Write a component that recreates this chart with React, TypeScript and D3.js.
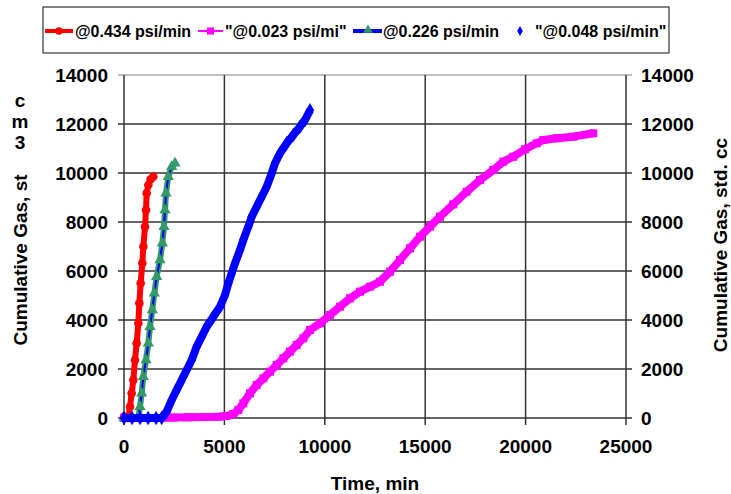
import React from "react";
import * as d3 from "d3";

const W = 731;
const H = 494;

const xTicks = [0, 5000, 10000, 15000, 20000, 25000];
const yTicks = [0, 2000, 4000, 6000, 8000, 10000, 12000, 14000];

const legendLabels = ["@0.434 psi/min", "\"@0.023 psi/mi\"", "@0.226 psi/min", "\"@0.048 psi/min\""];

// @0.434 psi/min (red circles)
const redX = [0, 216, 299, 382, 465, 548, 631, 714, 764, 830, 913, 963, 1046, 1096, 1129, 1212, 1328, 1461];
const redY = [60, 0, 462, 1007, 1551, 2368, 3048, 3864, 4680, 5498, 6315, 6994, 7809, 8490, 9172, 9511, 9744, 9851];

// "@0.023 psi/mi" (magenta squares)
const magX = [0, 1800, 2500, 3200, 4000, 4700, 5100, 5445, 5694, 5943, 6275, 6608, 6940, 7271, 7604, 7935, 8267, 8600, 8930, 9263, 9761, 10259, 10757, 11255, 11753, 12251, 12749, 13247, 13745, 14243, 14741, 15239, 15737, 16399, 17066, 17729, 18391, 18889, 19387, 19970, 20552, 20882, 21547, 22376, 23370];
const magY = [0, 0, 20, 30, 40, 50, 80, 163, 327, 599, 1007, 1347, 1619, 1891, 2163, 2436, 2708, 2980, 3253, 3592, 3865, 4204, 4543, 4886, 5156, 5360, 5564, 5972, 6450, 6927, 7401, 7809, 8217, 8720, 9238, 9715, 10124, 10462, 10666, 10968, 11213, 11348, 11417, 11483, 11621];

// @0.226 psi/min (green triangles, blue line)
const grnX = [0, 400, 714, 797, 880, 963, 1096, 1212, 1295, 1411, 1511, 1627, 1793, 1909, 1992, 2042, 2092, 2208, 2375, 2540];
const grnY = [0, 0, 0, 462, 1007, 1687, 2368, 3048, 3727, 4408, 5089, 5770, 6450, 7131, 7809, 8490, 9172, 9851, 10258, 10397];

// "@0.048 psi/min" (blue diamonds)
const bluX = [0, 400, 800, 1200, 1600, 1877, 2125, 2375, 2623, 2873, 3122, 3371, 3620, 3869, 4118, 4447, 4781, 5030, 5196, 5363, 5528, 5777, 5941, 6190, 6359, 6608, 6857, 7107, 7356, 7520, 7769, 8102, 8431, 8765, 9014, 9263];
const bluY = [0, 0, 0, 0, 0, 0, 258, 735, 1143, 1551, 1959, 2368, 2912, 3319, 3727, 4135, 4543, 5021, 5498, 5907, 6315, 6858, 7266, 7809, 8217, 8626, 9033, 9441, 9988, 10397, 10805, 11213, 11552, 11891, 12164, 12560];

const FONT = "Arial, 'Liberation Sans', sans-serif";

const x = d3.scaleLinear().domain([0, 25000]).range([124, 626]);
const y = d3.scaleLinear().domain([0, 14000]).range([418, 75]);

type P = [number, number];
const zip = (a: number[], b: number[]): P[] => a.map((v, i) => [v, b[i]]);

const line = d3.line<P>().x((d) => x(d[0])).y((d) => y(d[1]));

const RED = "#ff0000";
const MAG = "#ff00ff";
const GRN = "#339966";
const BLU = "#0000ff";

const tri = d3.symbol().type(d3.symbolTriangle).size(55)() as string;
const dia = d3.symbol().type(d3.symbolDiamond).size(60)() as string;
const triL = d3.symbol().type(d3.symbolTriangle).size(40)() as string;
const diaL = d3.symbol().type(d3.symbolDiamond).size(28)() as string;

export default function App() {
  const red = zip(redX, redY);
  const mag = zip(magX, magY);
  const grn = zip(grnX, grnY);
  const blu = zip(bluX, bluY);
  const gridColor = "#333";

  return (
    <svg width={W} height={H} style={{ position: "absolute", left: 0, top: 0, background: "#fff" }} fontFamily={FONT}>
      <rect x={0} y={0} width={W} height={H} fill="#fff" />
      {yTicks.map((t) => (
        <line key={"h" + t} x1={118} x2={632} y1={y(t)} y2={y(t)} stroke={t === 14000 ? "#aaa" : gridColor} strokeWidth={1.5} />
      ))}
      {xTicks.map((t) => (
        <line key={"v" + t} x1={x(t)} x2={x(t)} y1={75} y2={425} stroke={gridColor} strokeWidth={1.5} />
      ))}
      {yTicks.map((t) => (
        <text key={"ly" + t} x={108} y={y(t)} textAnchor="end" dominantBaseline="central" fontSize={19} fontWeight="bold" fill="#000">{t}</text>
      ))}
      {yTicks.map((t) => (
        <text key={"ry" + t} x={641} y={y(t)} textAnchor="start" dominantBaseline="central" fontSize={19} fontWeight="bold" fill="#000">{t}</text>
      ))}
      {xTicks.map((t) => (
        <text key={"tx" + t} x={x(t)} y={446} textAnchor="middle" dominantBaseline="central" fontSize={19} fontWeight="bold" fill="#000">{t}</text>
      ))}

      <path d={line(red) as string} fill="none" stroke={RED} strokeWidth={6} strokeLinejoin="round" />
      {red.map((d, i) => (
        <circle key={"r" + i} cx={x(d[0])} cy={y(d[1])} r={4.3} fill={RED} />
      ))}
      <path d={line(mag) as string} fill="none" stroke={MAG} strokeWidth={8} strokeLinejoin="round" />
      {mag.map((d, i) => (
        <rect key={"m" + i} x={x(d[0]) - 4} y={y(d[1]) - 4} width={8} height={8} fill={MAG} />
      ))}
      <path d={line(grn) as string} fill="none" stroke={GRN} strokeWidth={6} strokeLinejoin="round" />
      <path d={line(grn) as string} fill="none" stroke={BLU} strokeWidth={2} />
      {grn.map((d, i) => (
        <path key={"g" + i} d={tri} transform={`translate(${x(d[0])},${y(d[1])})`} fill={GRN} />
      ))}
      <path d={line(blu) as string} fill="none" stroke={BLU} strokeWidth={8} strokeLinejoin="round" />
      {blu.map((d, i) => (
        <path key={"b" + i} d={dia} transform={`translate(${x(d[0])},${y(d[1])})`} fill={BLU} />
      ))}

      <text transform="translate(20,260) rotate(-90)" textAnchor="middle" dominantBaseline="central" fontSize={19} fontWeight="bold" fill="#000">Cumulative Gas, st</text>
      {["c", "m", "3"].map((c, i) => (
        <text key={"c" + i} x={20} y={100 + i * 21} textAnchor="middle" dominantBaseline="central" fontSize={19} fontWeight="bold" fill="#000">{c}</text>
      ))}
      <text transform="translate(720,245) rotate(-90)" textAnchor="middle" dominantBaseline="central" fontSize={19} fontWeight="bold" fill="#000">Cumulative Gas, std. cc</text>
      <text x={375} y={483} textAnchor="middle" dominantBaseline="central" fontSize={19} fontWeight="bold" fill="#000">Time, min</text>

      <rect x={43} y={7} width={626} height={46} fill="#fff" stroke="#333" strokeWidth={1.2} />
      <line x1={45} x2={73} y1={31} y2={31} stroke={RED} strokeWidth={4} />
      <circle cx={59} cy={31} r={3.8} fill={RED} />
      <text x={75} y={31} dominantBaseline="central" fontSize={16} fontWeight="bold">{legendLabels[0]}</text>
      <line x1={198} x2={223} y1={31} y2={31} stroke={MAG} strokeWidth={2} />
      <rect x={207} y={27.5} width={7} height={7} fill={MAG} />
      <text x={225} y={31} dominantBaseline="central" fontSize={16} fontWeight="bold">{legendLabels[1]}</text>
      <line x1={353} x2={382} y1={31} y2={31} stroke={BLU} strokeWidth={4} />
      <path d={triL} transform="translate(368,30)" fill={GRN} />
      <text x={383} y={31} dominantBaseline="central" fontSize={16} fontWeight="bold">{legendLabels[2]}</text>
      <path d={diaL} transform="translate(520,31)" fill={BLU} />
      <text x={535} y={31} dominantBaseline="central" fontSize={16} fontWeight="bold">{legendLabels[3]}</text>
    </svg>
  );
}
